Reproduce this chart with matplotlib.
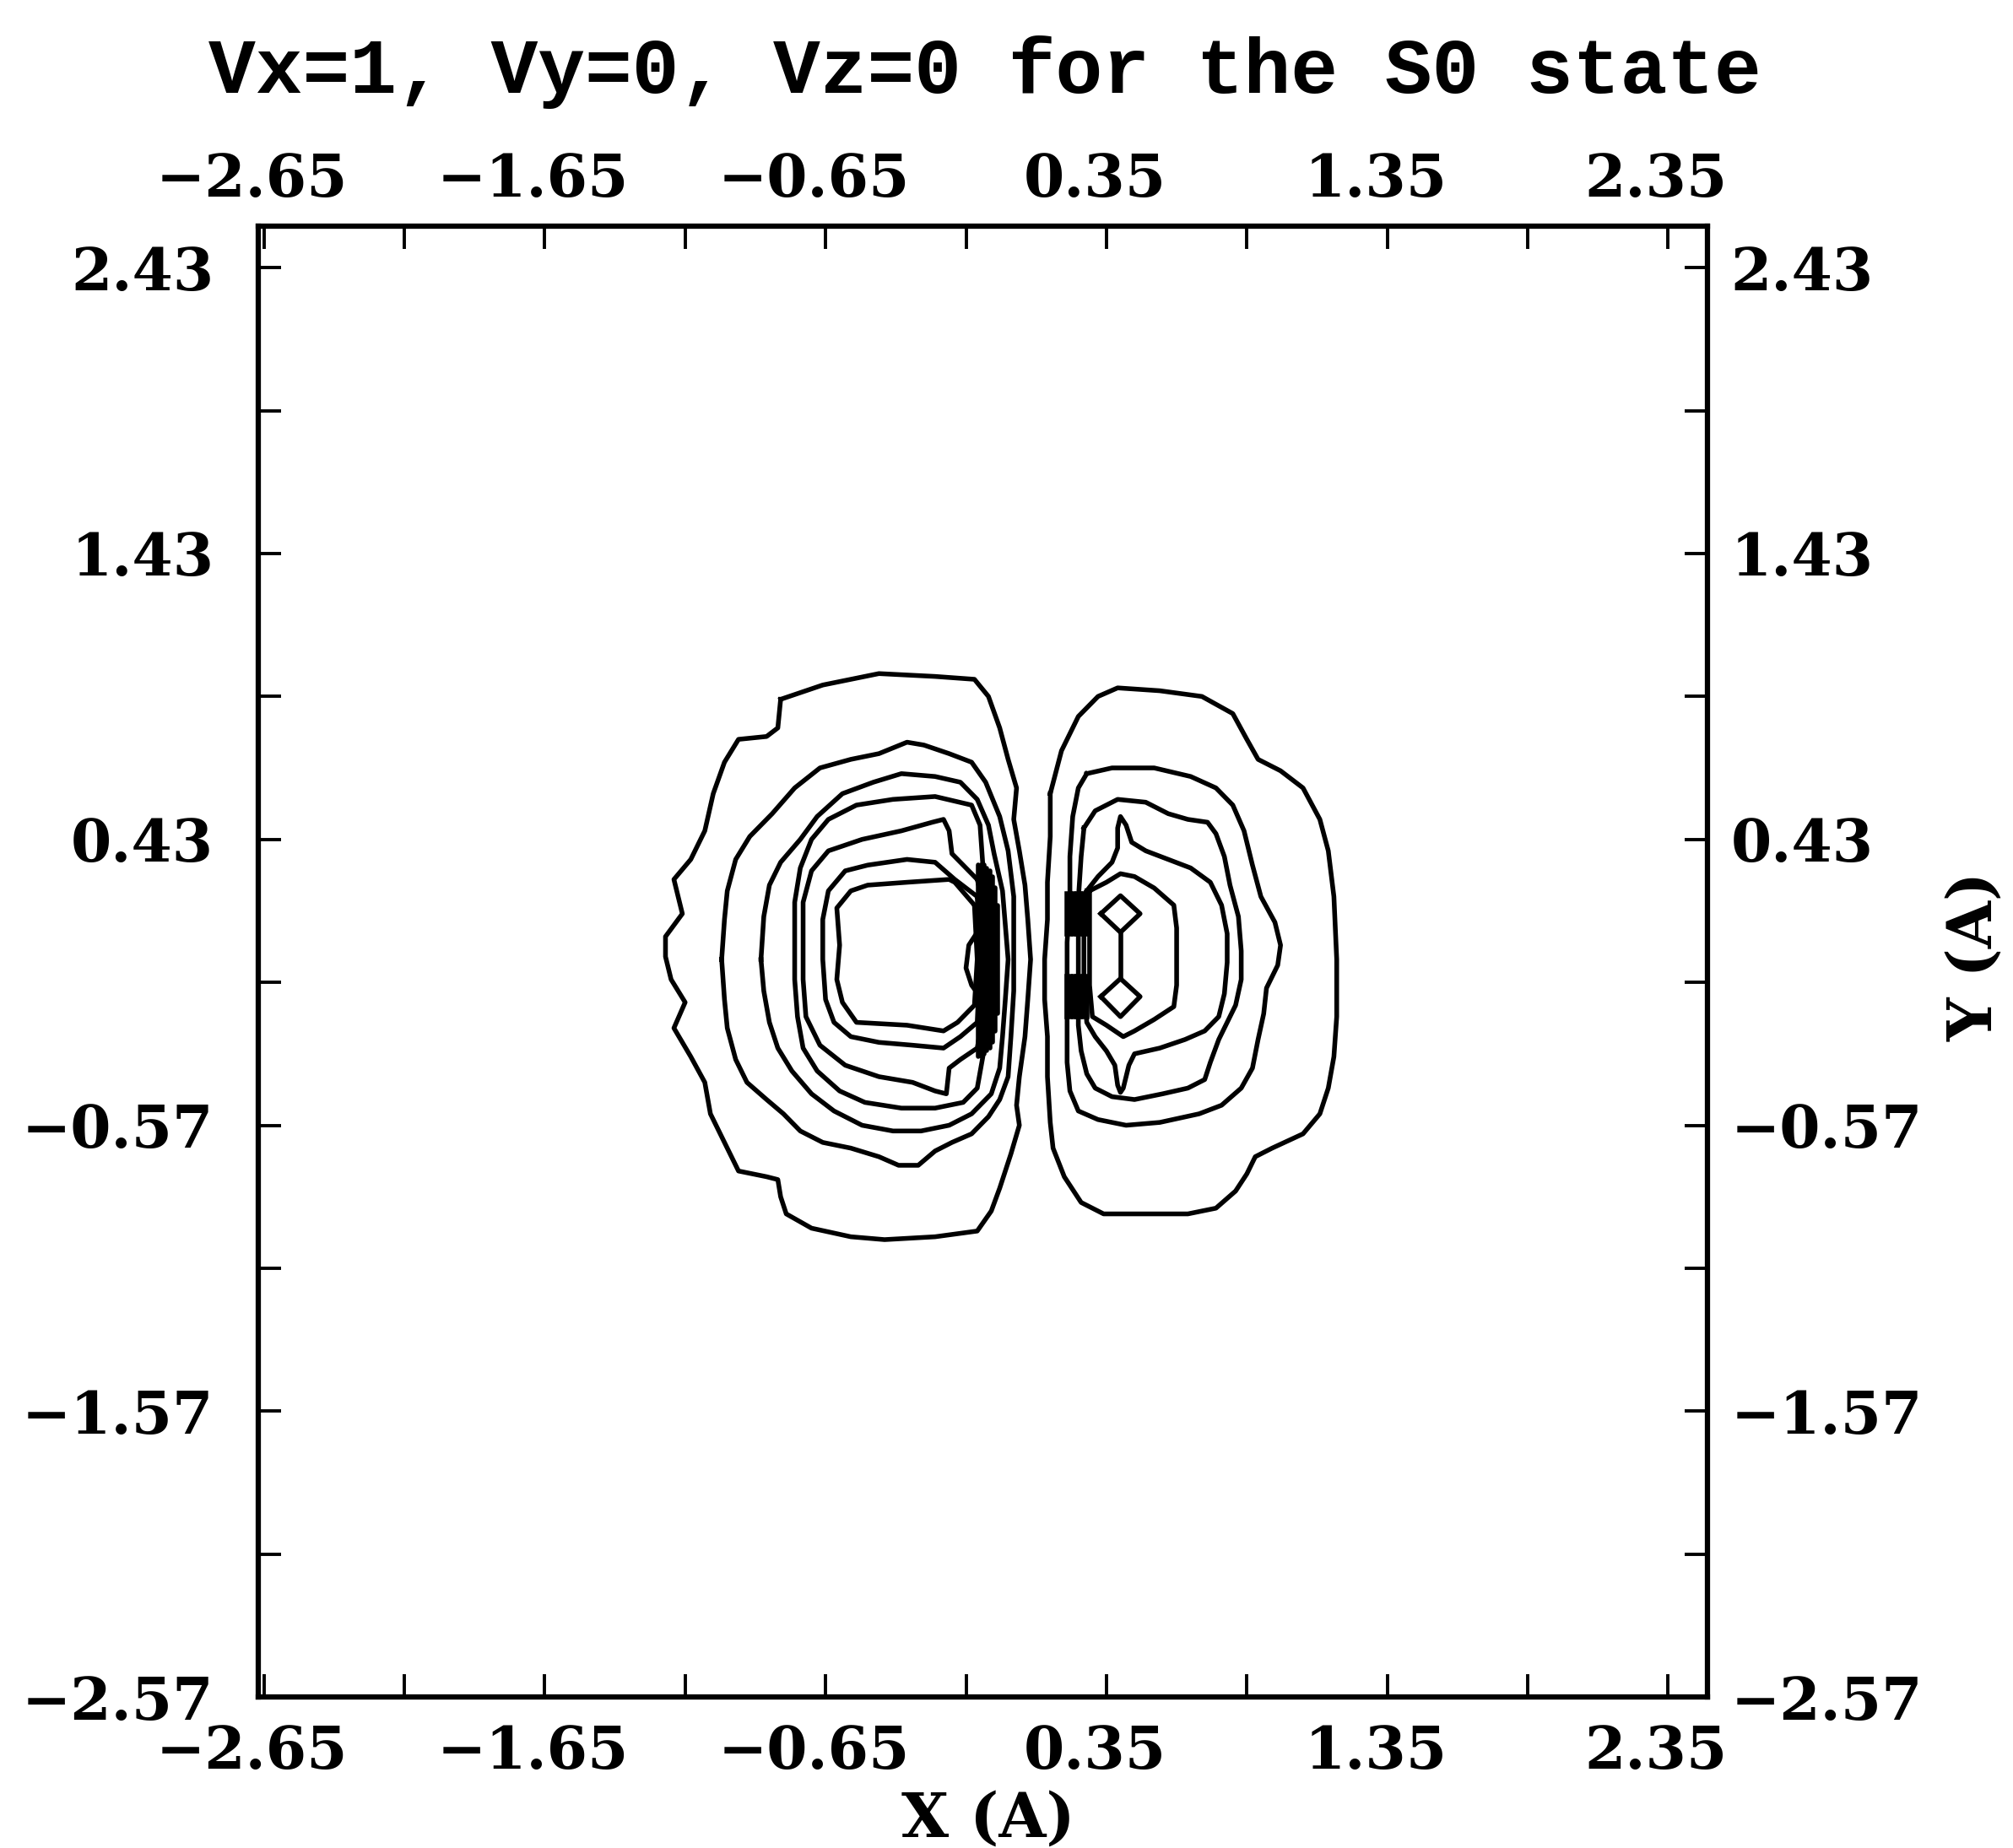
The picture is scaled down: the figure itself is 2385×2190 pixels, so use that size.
import matplotlib
matplotlib.use("Agg")
import matplotlib.pyplot as plt
from matplotlib.transforms import ScaledTranslation

plt.rcParams['font.family'] = 'DejaVu Serif'
plt.rcParams['font.weight'] = 'bold'

# axis ticks (Angstrom)
x_major = [-2.65, -1.65, -0.65, 0.35, 1.35, 2.35]
x_minor = [-2.15, -1.15, -0.15, 0.85, 1.85]
x_labels = ['\u22122.65', '\u22121.65', '\u22120.65', '0.35', '1.35', '2.35']
y_major = [2.43, 1.43, 0.43, -0.57, -1.57, -2.57]
y_minor = [1.93, 0.93, -0.07, -1.07, -2.07]
y_labels = ['2.43', '1.43', '0.43', '\u22120.57', '\u22121.57', '\u22122.57']

# contour traces, left lobe (outer -> inner)
L1_x = [-0.81, -0.66, -0.46, -0.26, -0.12, -0.07, -0.03, 0.00, 0.03, 0.02,
        0.04, 0.06, 0.07, 0.08, 0.07, 0.06, 0.04, 0.03, 0.04, 0.01,
        -0.03, -0.06, -0.11, -0.26, -0.44, -0.56, -0.70, -0.79, -0.81, -0.82,
        -0.86, -0.96, -1.00, -1.06, -1.08, -1.13, -1.19, -1.15, -1.20, -1.22,
        -1.22, -1.16, -1.19, -1.13, -1.08, -1.05, -1.01, -0.96, -0.86, -0.82]
L1_y = [0.92, 0.97, 1.01, 1.00, 0.99, 0.93, 0.82, 0.71, 0.61, 0.50,
        0.39, 0.27, 0.15, 0.01, -0.13, -0.26, -0.40, -0.50, -0.57, -0.67,
        -0.79, -0.87, -0.94, -0.96, -0.97, -0.96, -0.93, -0.88, -0.82, -0.76,
        -0.75, -0.73, -0.65, -0.53, -0.42, -0.33, -0.23, -0.14, -0.06, 0.02,
        0.09, 0.17, 0.29, 0.36, 0.46, 0.59, 0.70, 0.78, 0.79, 0.82]

L2_x = [-1.02, -1.01, -1.00, -0.97, -0.92, -0.84, -0.76, -0.67, -0.56, -0.46,
        -0.36, -0.30, -0.21, -0.13, -0.08, -0.03, 0.00, 0.02, 0.02, 0.02,
        0.01, 0.00, -0.03, -0.07, -0.13, -0.20, -0.26, -0.32, -0.39, -0.46,
        -0.56, -0.66, -0.74, -0.80, -0.86, -0.93, -0.97, -1.00, -1.01]
L2_y = [0.01, 0.15, 0.25, 0.36, 0.44, 0.52, 0.61, 0.68, 0.71, 0.73,
        0.77, 0.76, 0.73, 0.70, 0.63, 0.51, 0.39, 0.23, 0.06, -0.10,
        -0.26, -0.40, -0.48, -0.54, -0.60, -0.63, -0.66, -0.71, -0.71, -0.68,
        -0.65, -0.63, -0.59, -0.53, -0.48, -0.42, -0.34, -0.23, -0.13]

L3_x = [-0.88, -0.87, -0.85, -0.81, -0.74, -0.68, -0.59, -0.48, -0.38, -0.26,
        -0.17, -0.11, -0.07, -0.05, -0.02, -0.01, 0.00, -0.01, -0.02, -0.03,
        -0.06, -0.13, -0.21, -0.31, -0.41, -0.52, -0.62, -0.70, -0.77, -0.82,
        -0.85, -0.87]
L3_y = [0.01, 0.16, 0.27, 0.35, 0.43, 0.51, 0.59, 0.63, 0.66, 0.65,
        0.63, 0.57, 0.48, 0.38, 0.25, 0.13, 0.01, -0.13, -0.26, -0.37,
        -0.46, -0.53, -0.57, -0.59, -0.59, -0.57, -0.52, -0.46, -0.38, -0.30,
        -0.21, -0.10]

L4_x = [-0.09, -0.10, -0.13, -0.26, -0.41, -0.54, -0.64, -0.70, -0.74, -0.76,
        -0.76, -0.76, -0.75, -0.73, -0.68, -0.60, -0.51, -0.38, -0.26, -0.16,
        -0.11, -0.09, -0.08, -0.08, -0.08]
L4_y = [0.34, 0.48, 0.55, 0.58, 0.57, 0.55, 0.50, 0.43, 0.33, 0.21,
        0.08, -0.06, -0.19, -0.30, -0.38, -0.45, -0.49, -0.51, -0.51, -0.49,
        -0.44, -0.33, -0.19, 0.01, 0.21]

L5_x = [-0.11, -0.16, -0.20, -0.21, -0.23, -0.27, -0.38, -0.52, -0.64, -0.70,
        -0.73, -0.73, -0.73, -0.72, -0.67, -0.58, -0.46, -0.34, -0.26, -0.22,
        -0.21, -0.17, -0.11, -0.09, -0.09, -0.09]
L5_y = [0.29, 0.34, 0.38, 0.46, 0.50, 0.49, 0.46, 0.43, 0.39, 0.32,
        0.21, 0.08, -0.06, -0.19, -0.29, -0.36, -0.40, -0.42, -0.45, -0.46,
        -0.37, -0.34, -0.30, -0.19, 0.01, 0.21]

L6_x = [-0.11, -0.19, -0.26, -0.36, -0.50, -0.58, -0.64, -0.66, -0.66, -0.65,
        -0.62, -0.56, -0.46, -0.34, -0.23, -0.17, -0.11, -0.10]
L6_y = [0.23, 0.29, 0.35, 0.36, 0.34, 0.32, 0.25, 0.15, 0.01, -0.13,
        -0.21, -0.26, -0.28, -0.29, -0.30, -0.26, -0.21, 0.01]

L7_x = [-0.12, -0.19, -0.21, -0.36, -0.50, -0.56, -0.61, -0.60, -0.61, -0.59,
        -0.54, -0.36, -0.23, -0.18, -0.12, -0.11]
L7_y = [0.20, 0.28, 0.29, 0.28, 0.27, 0.25, 0.19, 0.06, -0.06, -0.14,
        -0.21, -0.22, -0.24, -0.21, -0.15, 0.01]

# small open arc left of the nodal bundle
arc_x = [-0.10, -0.14, -0.15, -0.13, -0.10]
arc_y = [0.12, 0.06, -0.02, -0.08, -0.12]

# crowded contours along the nodal plane (left lobe side), tapering to the right
left_bundle_x = [-0.105, -0.095, -0.085, -0.075, -0.065, -0.055, -0.045, -0.037]
left_bundle_top = [0.34, 0.34, 0.34, 0.33, 0.32, 0.30, 0.26, 0.20]
left_bundle_bot = [-0.33, -0.33, -0.32, -0.31, -0.30, -0.28, -0.24, -0.18]

# right lobe (outer -> inner)
R1_x = [0.15, 0.19, 0.25, 0.32, 0.39, 0.54, 0.69, 0.80, 0.85, 0.89,
        0.97, 1.05, 1.11, 1.14, 1.16, 1.17, 1.17, 1.16, 1.14, 1.11,
        1.05, 0.94, 0.88, 0.85, 0.81, 0.74, 0.64, 0.49, 0.34, 0.26,
        0.20, 0.16, 0.15, 0.14, 0.14, 0.13, 0.13, 0.14, 0.14, 0.15]
R1_y = [0.59, 0.74, 0.86, 0.93, 0.96, 0.95, 0.93, 0.87, 0.78, 0.71,
        0.67, 0.61, 0.50, 0.39, 0.23, 0.01, -0.19, -0.33, -0.44, -0.53,
        -0.60, -0.65, -0.68, -0.74, -0.80, -0.86, -0.88, -0.88, -0.88, -0.84,
        -0.75, -0.65, -0.56, -0.40, -0.26, -0.13, 0.01, 0.15, 0.28, 0.44]

R2_x = [0.28, 0.37, 0.52, 0.65, 0.74, 0.80, 0.84, 0.87, 0.90, 0.95,
        0.97, 0.96, 0.92, 0.91, 0.89, 0.87, 0.83, 0.76, 0.68, 0.54,
        0.42, 0.32, 0.25, 0.22, 0.21, 0.21, 0.21, 0.21, 0.22, 0.22,
        0.23, 0.25]
R2_y = [0.66, 0.68, 0.68, 0.65, 0.61, 0.55, 0.46, 0.34, 0.23, 0.14,
        0.06, -0.01, -0.09, -0.18, -0.27, -0.37, -0.44, -0.50, -0.53, -0.56,
        -0.57, -0.55, -0.52, -0.45, -0.35, -0.22, -0.08, 0.07, 0.22, 0.37,
        0.51, 0.61]

R3_x = [0.27, 0.31, 0.39, 0.49, 0.57, 0.64, 0.71, 0.74, 0.77, 0.79,
        0.82, 0.83, 0.83, 0.81, 0.78, 0.75, 0.72, 0.70, 0.64, 0.55,
        0.45, 0.37, 0.31, 0.28, 0.26, 0.25, 0.25, 0.25, 0.25, 0.26]
R3_y = [0.47, 0.53, 0.57, 0.56, 0.52, 0.50, 0.49, 0.45, 0.37, 0.27,
        0.16, 0.04, -0.06, -0.15, -0.21, -0.27, -0.35, -0.41, -0.44, -0.46,
        -0.48, -0.47, -0.44, -0.39, -0.31, -0.22, -0.08, 0.07, 0.22, 0.37]

R4_x = [0.28, 0.32, 0.37, 0.39, 0.39, 0.40, 0.42, 0.44, 0.49, 0.57,
        0.65, 0.72, 0.76, 0.78, 0.78, 0.77, 0.75, 0.70, 0.63, 0.54,
        0.45, 0.43, 0.41, 0.40, 0.39, 0.38, 0.35, 0.31, 0.28, 0.27, 0.27]
R4_y = [0.25, 0.30, 0.35, 0.40, 0.47, 0.51, 0.48, 0.42, 0.39, 0.36,
        0.33, 0.28, 0.20, 0.10, 0.00, -0.11, -0.19, -0.24, -0.27, -0.30,
        -0.32, -0.36, -0.44, -0.455, -0.43, -0.36, -0.31, -0.26, -0.21, -0.08, 0.10]

R5_x = [0.29, 0.35, 0.40, 0.45, 0.52, 0.59, 0.60, 0.60, 0.60, 0.59,
        0.52, 0.45, 0.41, 0.35, 0.30, 0.29, 0.29]
R5_y = [0.25, 0.28, 0.31, 0.30, 0.26, 0.20, 0.12, 0.02, -0.08, -0.155,
        -0.20, -0.24, -0.26, -0.22, -0.19, -0.08, 0.10]

# the two diamonds joined by a short stem
DT_x = [0.33, 0.40, 0.47, 0.40]
DT_y = [0.17, 0.233, 0.17, 0.105]
DB_x = [0.33, 0.40, 0.47, 0.40]
DB_y = [-0.12, -0.057, -0.12, -0.19]
stem_x = [0.40, 0.40]
stem_y = [0.105, -0.057]

# crowded contours along the nodal plane (right lobe side)
right_bundle_x = [0.210, 0.222, 0.234, 0.246, 0.258, 0.270, 0.280]
right_bundle_top = [0.24, 0.10]
right_bundle_bot = [-0.05, -0.19]

closed_lines = [(L1_x, L1_y), (L2_x, L2_y), (L3_x, L3_y), (L4_x, L4_y),
                (L5_x, L5_y), (L6_x, L6_y), (L7_x, L7_y),
                (R1_x, R1_y), (R2_x, R2_y), (R3_x, R3_y), (R4_x, R4_y),
                (R5_x, R5_y), (DT_x, DT_y), (DB_x, DB_y)]

fig = plt.figure(figsize=(23.85, 21.9), dpi=100)
ax = fig.add_axes([0.1283, 0.0817, 0.7199, 0.7959])

lw = 4.0
for xs, ys in closed_lines:
    ax.plot(xs + xs[:1], ys + ys[:1], color='black', lw=lw,
            solid_joinstyle='round')
ax.plot(arc_x, arc_y, color='black', lw=lw, solid_capstyle='round')
ax.plot(stem_x, stem_y, color='black', lw=lw)
for bx, top, bot in zip(left_bundle_x, left_bundle_top, left_bundle_bot):
    ax.plot([bx, bx], [top, bot], color='black', lw=lw, solid_capstyle='round')
for bx in right_bundle_x:
    ax.plot([bx, bx], right_bundle_top, color='black', lw=lw)
    ax.plot([bx, bx], right_bundle_bot, color='black', lw=lw)

ax.set_xlim(-2.67, 2.49)
ax.set_ylim(-2.57, 2.575)

ax.set_xticks(x_major, x_labels)
ax.set_xticks(x_minor, minor=True)
ax.set_yticks(y_major, y_labels)
ax.set_yticks(y_minor, minor=True)
ax.tick_params(which='both', direction='in', length=19.5, width=2.8,
               top=True, right=True, labeltop=True, labelbottom=True,
               labelleft=True, labelright=False)
ax.tick_params(axis='x', labelsize=50, pad=15)
ax.tick_params(axis='y', labelsize=50, pad=38)
for s in ax.spines.values():
    s.set_linewidth(4.5)

# the scanned labels sit a little left of their ticks, bottom row a bit lower
for tick in ax.xaxis.get_major_ticks():
    tick.label1.set_transform(tick.label1.get_transform()
                              + ScaledTranslation(-0.14, -0.11, fig.dpi_scale_trans))
    tick.label2.set_transform(tick.label2.get_transform()
                              + ScaledTranslation(-0.14, 0, fig.dpi_scale_trans))

# right-hand labels sit closer to the frame than the left ones
sec = ax.secondary_yaxis('right')
sec.set_yticks(y_major, y_labels)
sec.tick_params(length=0, pad=20, labelsize=50)
for s in sec.spines.values():
    s.set_visible(False)

fig.text(0.4893, 0.9498, 'Vx=1, Vy=0, Vz=0 for the S0 state', ha='center',
         va='baseline', fontsize=67, family='Liberation Mono', weight='bold')
fig.text(0.491, 0.0059, 'X (A)', ha='center', va='baseline', fontsize=52)
fig.text(0.9811, 0.4826, 'Y (A)', rotation=90, ha='center', va='center',
         fontsize=52)

fig.savefig('out.png', dpi=100)
